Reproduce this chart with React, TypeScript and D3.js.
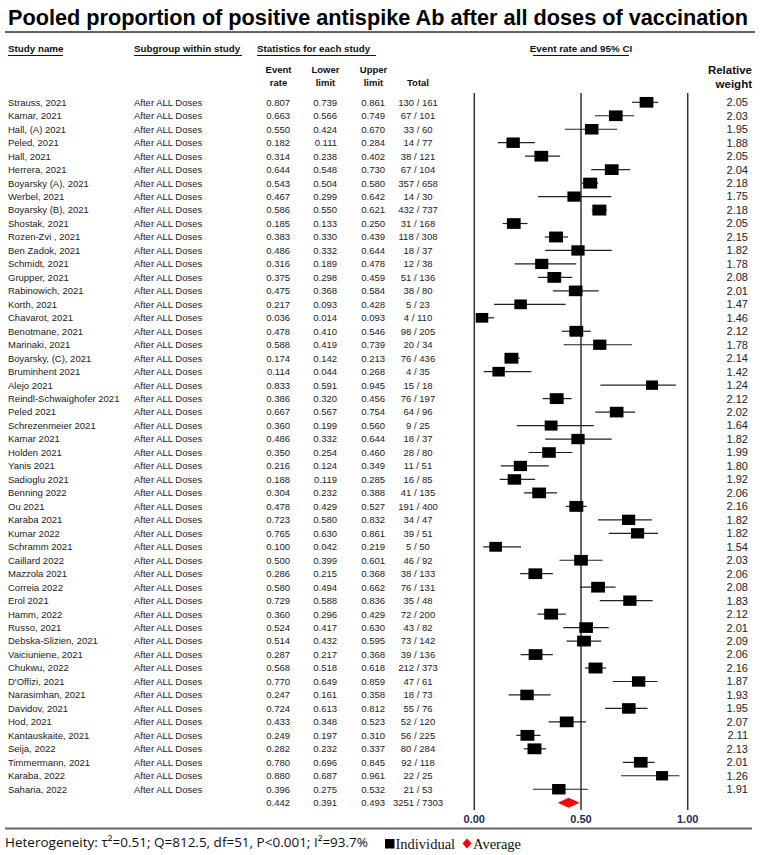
import React from "react";
import * as d3 from "d3";

const studies = [
  "Strauss, 2021", "Kamar, 2021", "Hall, (A) 2021", "Peled, 2021", "Hall, 2021", "Herrera, 2021",
  "Boyarsky (A), 2021", "Werbel, 2021", "Boyarsky (B), 2021", "Shostak, 2021", "Rozen-Zvi , 2021",
  "Ben Zadok, 2021", "Schmidt, 2021", "Grupper, 2021", "Rabinowich, 2021", "Korth, 2021",
  "Chavarot, 2021", "Benotmane, 2021", "Marinaki, 2021", "Boyarsky, (C), 2021", "Bruminhent 2021",
  "Alejo 2021", "Reindl-Schwaighofer  2021", "Peled 2021", "Schrezenmeier 2021", "Kamar 2021",
  "Holden 2021", "Yanis 2021", "Sadioglu 2021", "Benning 2022", "Ou 2021", "Karaba 2021",
  "Kumar 2022", "Schramm 2021", "Caillard 2022", "Mazzola 2021", "Correia 2022", "Erol 2021",
  "Hamm, 2022", "Russo, 2021", "Debska-Slizien, 2021", "Vaiciuniene, 2021", "Chukwu, 2022",
  "D'Offizi, 2021", "Narasimhan, 2021", "Davidov, 2021", "Hod, 2021", "Kantauskaite, 2021",
  "Seija, 2022", "Timmermann, 2021", "Karaba, 2022", "Saharia, 2022",
];

const eventRates = [
  0.807, 0.663, 0.55, 0.182, 0.314, 0.644, 0.543, 0.467, 0.586, 0.185, 0.383, 0.486, 0.316,
  0.375, 0.475, 0.217, 0.036, 0.478, 0.588, 0.174, 0.114, 0.833, 0.386, 0.667, 0.36, 0.486,
  0.35, 0.216, 0.188, 0.304, 0.478, 0.723, 0.765, 0.1, 0.5, 0.286, 0.58, 0.729, 0.36, 0.524,
  0.514, 0.287, 0.568, 0.77, 0.247, 0.724, 0.433, 0.249, 0.282, 0.78, 0.88, 0.396,
];

const lowerLimits = [
  0.739, 0.566, 0.424, 0.111, 0.238, 0.548, 0.504, 0.299, 0.55, 0.133, 0.33, 0.332, 0.189,
  0.298, 0.368, 0.093, 0.014, 0.41, 0.419, 0.142, 0.044, 0.591, 0.32, 0.567, 0.199, 0.332,
  0.254, 0.124, 0.119, 0.232, 0.429, 0.58, 0.63, 0.042, 0.399, 0.215, 0.494, 0.588, 0.296,
  0.417, 0.432, 0.217, 0.518, 0.649, 0.161, 0.613, 0.348, 0.197, 0.232, 0.696, 0.687, 0.275,
];

const upperLimits = [
  0.861, 0.749, 0.67, 0.284, 0.402, 0.73, 0.58, 0.642, 0.621, 0.25, 0.439, 0.644, 0.478,
  0.459, 0.584, 0.428, 0.093, 0.546, 0.739, 0.213, 0.268, 0.945, 0.456, 0.754, 0.56, 0.644,
  0.46, 0.349, 0.285, 0.388, 0.527, 0.832, 0.861, 0.219, 0.601, 0.368, 0.662, 0.836, 0.429,
  0.63, 0.595, 0.368, 0.618, 0.859, 0.358, 0.812, 0.523, 0.31, 0.337, 0.845, 0.961, 0.532,
];

const events = [
  130, 67, 33, 14, 38, 67, 357, 14, 432, 31, 118, 18, 12, 51, 38, 5, 4, 98, 20, 76, 4, 15, 76,
  64, 9, 18, 28, 11, 16, 41, 191, 34, 39, 5, 46, 38, 76, 35, 72, 43, 73, 39, 212, 47, 18, 55,
  52, 56, 80, 92, 22, 21,
];

const totals = [
  161, 101, 60, 77, 121, 104, 658, 30, 737, 168, 308, 37, 38, 136, 80, 23, 110, 205, 34, 436,
  35, 18, 197, 96, 25, 37, 80, 51, 85, 135, 400, 47, 51, 50, 92, 133, 131, 48, 200, 82, 142,
  136, 373, 61, 73, 76, 120, 225, 284, 118, 25, 53,
];

const weights = [
  2.05, 2.03, 1.95, 1.88, 2.05, 2.04, 2.18, 1.75, 2.18, 2.05, 2.15, 1.82, 1.78, 2.08, 2.01,
  1.47, 1.46, 2.12, 1.78, 2.14, 1.42, 1.24, 2.12, 2.02, 1.64, 1.82, 1.99, 1.8, 1.92, 2.06,
  2.16, 1.82, 1.82, 1.54, 2.03, 2.06, 2.08, 1.83, 2.12, 2.01, 2.09, 2.06, 2.16, 1.87, 1.93,
  1.95, 2.07, 2.11, 2.13, 2.01, 1.26, 1.91,
];

const summaryRate = 0.442;
const summaryLower = 0.391;
const summaryUpper = 0.493;
const summaryEvents = 3251;
const summaryTotal = 7303;

const axisTicks = [0, 0.5, 1];

const title = "Pooled proportion of positive antispike Ab after all doses of vaccination";
const heterogeneity = "Heterogeneity: \u03C4\u00B2=0.51; Q=812.5, df=51, P<0.001; I\u00B2=93.7%";

const SANS = "'Liberation Sans', Arial, sans-serif";

export default function App() {
  const W = 760;
  const H = 855;
  const x = d3.scaleLinear().domain([0, 1]).range([474.3, 687.7]);
  const y = d3.scaleLinear().domain([0, 52]).range([102.3, 802.7]);
  const sq = d3.scaleLinear().domain([1.24, 2.18]).range([12, 14]);
  const fmt = d3.format(".3f");
  const wfmt = d3.format(".2f");
  const tickFmt = d3.format(".2f");

  const colEvent = 290;
  const colLower = 337;
  const colUpper = 385;
  const colTotal = 418;
  const colWeight = 748;
  const textColor = "#222";

  const plotTop = 93;
  const plotBottom = 810;

  const headerUnder = (x0: number, label: string, w: number) => (
    <g key={label}>
      <text x={x0} y={52} fontFamily={SANS} fontWeight="bold" fontSize={9.8} fill="#111">
        {label}
      </text>
      <line x1={x0} x2={x0 + w} y1={55.5} y2={55.5} stroke="#111" strokeWidth={1} />
    </g>
  );

  const sy = y(52);
  const dh = 5;

  return (
    <svg width={W} height={H} style={{ display: "block", position: "absolute", left: 0, top: 0, background: "#fff" }}>
      <rect x={0} y={0} width={W} height={H} fill="#fff" />
      <text x={8} y={25} fontFamily={SANS} fontWeight="bold" fontSize={21.5} fill="#000" textLength={740} lengthAdjust="spacingAndGlyphs">
        {title}
      </text>
      <line x1={5} x2={755} y1={32} y2={32} stroke="#666" strokeWidth={2} />

      {headerUnder(8, "Study name", 55)}
      {headerUnder(134, "Subgroup within study", 108)}
      {headerUnder(257, "Statistics for each study", 119)}
      <text x={x(0.5)} y={52} textAnchor="middle" fontFamily={SANS} fontWeight="bold" fontSize={9.8} fill="#111">
        Event rate and 95% CI
      </text>
      <line x1={x(0.5) - 48} x2={x(0.5) + 48} y1={55.5} y2={55.5} stroke="#111" strokeWidth={1} />

      {[
        ["Event", "rate", colEvent - 11.5],
        ["Lower", "limit", colLower - 11.5],
        ["Upper", "limit", colUpper - 11.5],
      ].map(([a, b, cx]) => (
        <g key={a as string}>
          <text x={cx as number} y={73} textAnchor="middle" fontFamily={SANS} fontWeight="bold" fontSize={9.5} fill="#111">
            {a}
          </text>
          <text x={cx as number} y={86} textAnchor="middle" fontFamily={SANS} fontWeight="bold" fontSize={9.5} fill="#111">
            {b}
          </text>
        </g>
      ))}
      <text x={colTotal} y={86} textAnchor="middle" fontFamily={SANS} fontWeight="bold" fontSize={9.5} fill="#111">
        Total
      </text>
      <text x={752} y={74} textAnchor="end" fontFamily={SANS} fontWeight="bold" fontSize={11.5} fill="#111">
        Relative
      </text>
      <text x={752} y={88} textAnchor="end" fontFamily={SANS} fontWeight="bold" fontSize={11.5} fill="#111">
        weight
      </text>

      {/* vertical reference lines */}
      {axisTicks.map((t) => (
        <line key={t} x1={x(t)} x2={x(t)} y1={plotTop} y2={plotBottom} stroke="#333" strokeWidth={1.5} />
      ))}

      {studies.map((s, i) => {
        const cy = y(i);
        const by = cy + 3.4;
        const w = sq(weights[i]);
        const h = w * 0.78;
        return (
          <g key={i}>
            <text x={8} y={by} fontFamily={SANS} fontSize={9.5} fill={textColor}>{s}</text>
            <text x={134} y={by} fontFamily={SANS} fontSize={9.5} fill={textColor}>After ALL Doses</text>
            <text x={colEvent} y={by} textAnchor="end" fontFamily={SANS} fontSize={9.5} fill={textColor}>{fmt(eventRates[i])}</text>
            <text x={colLower} y={by} textAnchor="end" fontFamily={SANS} fontSize={9.5} fill={textColor}>{fmt(lowerLimits[i])}</text>
            <text x={colUpper} y={by} textAnchor="end" fontFamily={SANS} fontSize={9.5} fill={textColor}>{fmt(upperLimits[i])}</text>
            <text x={colTotal} y={by} textAnchor="middle" fontFamily={SANS} fontSize={9.5} fill={textColor}>{`${events[i]} / ${totals[i]}`}</text>
            <line x1={x(lowerLimits[i])} x2={x(upperLimits[i])} y1={cy} y2={cy} stroke="#222" strokeWidth={1.2} />
            <rect x={x(eventRates[i]) - w / 2} y={cy - h / 2} width={w} height={h} fill="#000" />
            <text x={colWeight} y={by + 0.5} textAnchor="end" fontFamily={SANS} fontSize={11} fill={textColor}>{wfmt(weights[i])}</text>
          </g>
        );
      })}

      {/* summary row */}
      <text x={colEvent} y={sy + 3.4} textAnchor="end" fontFamily={SANS} fontSize={9.5} fill={textColor}>{fmt(summaryRate)}</text>
      <text x={colLower} y={sy + 3.4} textAnchor="end" fontFamily={SANS} fontSize={9.5} fill={textColor}>{fmt(summaryLower)}</text>
      <text x={colUpper} y={sy + 3.4} textAnchor="end" fontFamily={SANS} fontSize={9.5} fill={textColor}>{fmt(summaryUpper)}</text>
      <text x={colTotal} y={sy + 3.4} textAnchor="middle" fontFamily={SANS} fontSize={9.5} fill={textColor}>{`${summaryEvents} / ${summaryTotal}`}</text>
      <path
        d={`M${x(summaryLower)},${sy} L${x(summaryRate)},${sy - dh} L${x(summaryUpper)},${sy} L${x(summaryRate)},${sy + dh} Z`}
        fill="#ff0000"
      />

      {/* axis labels */}
      {axisTicks.map((t) => (
        <text key={t} x={x(t)} y={823} textAnchor="middle" fontFamily={SANS} fontWeight="bold" fontSize={11} fill="#1f2d4f">
          {tickFmt(t)}
        </text>
      ))}

      <line x1={5} x2={752} y1={828.5} y2={828.5} stroke="#666" strokeWidth={2} />

      <text x={5} y={847} fontFamily="'Open Sans', 'Noto Sans', sans-serif" fontSize={13.5} fill="#111" textLength={363} lengthAdjust="spacingAndGlyphs">
        {heterogeneity}
      </text>

      {/* legend */}
      <rect x={385} y={839} width={9.5} height={9.5} fill="#000" />
      <text x={395.5} y={848.5} fontFamily="'Liberation Serif', 'Times New Roman', serif" fontSize={14.5} fill="#111">Individual</text>
      <path d="M467,838.5 L471.5,843.5 L467,848.5 L462.5,843.5 Z" fill="#ff0000" />
      <text x={473} y={848.5} fontFamily="'Liberation Serif', 'Times New Roman', serif" fontSize={14.5} fill="#111">Average</text>
    </svg>
  );
}
